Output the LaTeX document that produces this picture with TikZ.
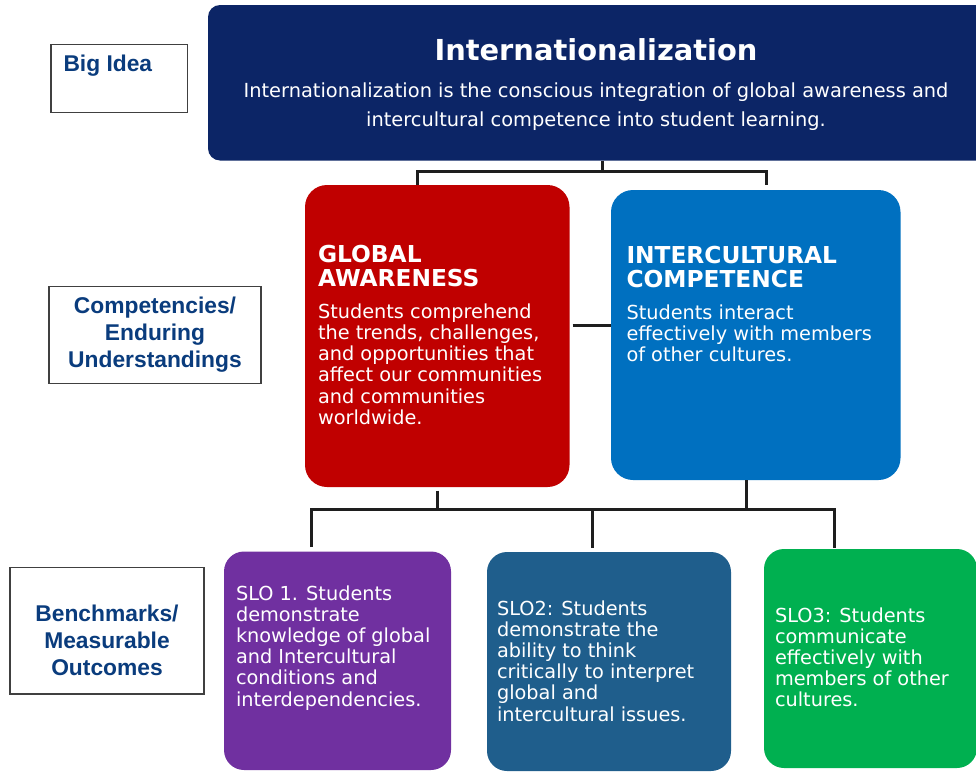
\documentclass[tikz,border=0pt]{standalone}
\usepackage{fontspec}
\newfontfamily\verd{DejaVu Sans}
\newfontfamily\arialf{Liberation Sans}
\definecolor{navybox}{RGB}{12,37,102}
\definecolor{redbox}{RGB}{192,0,0}
\definecolor{bluebox}{RGB}{0,112,192}
\definecolor{purplebox}{RGB}{112,48,160}
\definecolor{tealbox}{RGB}{31,94,140}
\definecolor{greenbox}{RGB}{0,176,80}
\definecolor{labeltext}{RGB}{10,60,125}
\definecolor{labelborder}{RGB}{64,64,64}
\definecolor{conn}{RGB}{30,30,30}
\begin{document}
\begin{tikzpicture}[x=1pt,y=-1pt,
  box/.style={inner sep=0pt, outer sep=0pt, anchor=north west, draw=none},
  labelbox/.style={inner sep=0pt, outer sep=0pt, anchor=north west, draw=labelborder, line width=1.5pt, fill=white},
  labeltxt/.style={inner sep=0pt, outer sep=0pt, text=labeltext, align=center,
    font={\arialf\bfseries\fontsize{22.8}{27}\selectfont}},
  headtxt/.style={inner sep=0pt, outer sep=0pt, anchor=north west, align=left, text=white,
    font={\verd\bfseries\fontsize{23.3}{24}\selectfont}},
  bodytxt/.style={inner sep=0pt, outer sep=0pt, anchor=north west, align=left, text=white,
    font={\verd\fontsize{19.3}{21.2}\selectfont}},
  connector/.style={draw=conn, line width=3pt, line cap=butt, line join=miter}
]
\useasboundingbox (0,0) rectangle (976,771);
\clip (0,0) rectangle (976,771);

% ---------- label boxes ----------
\node[labelbox, minimum width=136.3pt, minimum height=68pt] (lbig) at (51,44.3) {};
\node[labeltxt, anchor=north west, align=left] (lbigt) at (63.5,48.9) {\rule{0pt}{1em}Big Idea};

\node[labelbox, minimum width=212pt, minimum height=96.6pt] (lcomp) at (49,286.7) {};
\node[labeltxt, anchor=north] (lcompt) at (155,290.5) {\rule{0pt}{1em}Competencies/\\Enduring\\Understandings};

\node[labelbox, minimum width=194pt, minimum height=126.3pt] (lbench) at (10,567.7) {};
\node[labeltxt, anchor=north, font={\arialf\bfseries\fontsize{22.8}{26.7}\selectfont}] (lbencht) at (107,598.9) {\rule{0pt}{1em}Benchmarks/\\Measurable\\Outcomes};

% ---------- top box ----------
\node[box, fill=navybox, rounded corners=12pt, minimum width=782pt, minimum height=155.5pt] (top) at (208,5) {};
\node[inner sep=0pt, anchor=base, text=white, font={\verd\bfseries\fontsize{28.9}{30}\selectfont}] (title) at (596,60.7) {Internationalization};
\node[inner sep=0pt, anchor=north, align=center, text=white, font={\verd\fontsize{19.4}{28.8}\selectfont}] (subtitle) at (596,77.9)
  {\rule{0pt}{1em}Internationalization is the conscious integration of global awareness and\\intercultural competence into student learning.};

% ---------- competency boxes ----------
\node[box, fill=redbox, rounded corners=22pt, minimum width=264.5pt, minimum height=302pt] (red) at (305,185) {};
\node[headtxt] (redh) at (318,239) {\rule{0pt}{1em}GLOBAL\\AWARENESS};
\node[bodytxt] (redb) at (318,299) {\rule{0pt}{1em}Students comprehend\\the trends, challenges,\\and opportunities that\\affect our communities\\and communities\\worldwide.};

\node[box, fill=bluebox, rounded corners=22pt, minimum width=289.5pt, minimum height=290pt] (blue) at (611,190) {};
\node[headtxt] (blueh) at (626.5,240) {\rule{0pt}{1em}INTERCULTURAL\\COMPETENCE};
\node[bodytxt] (blueb) at (626.5,300) {\rule{0pt}{1em}Students interact\\effectively with members\\of other cultures.};

% ---------- outcome boxes ----------
\node[box, fill=purplebox, rounded corners=20pt, minimum width=227pt, minimum height=218.5pt] (slo1) at (224,551.5) {};
\node[bodytxt] (slo1t) at (236,580.7) {\rule{0pt}{1em}SLO 1. Students\\demonstrate\\knowledge of global\\and Intercultural\\conditions and\\interdependencies.};

\node[box, fill=tealbox, rounded corners=20pt, minimum width=244pt, minimum height=219pt] (slo2) at (487,552) {};
\node[bodytxt] (slo2t) at (497,595.7) {\rule{0pt}{1em}SLO2: Students\\demonstrate the\\ability to think\\critically to interpret\\global and\\intercultural issues.};

\node[box, fill=greenbox, rounded corners=20pt, minimum width=213pt, minimum height=219pt] (slo3) at (764,549) {};
\node[bodytxt] (slo3t) at (775,602.7) {\rule{0pt}{1em}SLO3: Students\\communicate\\effectively with\\members of other\\cultures.};

% ---------- connectors ----------
\coordinate (jtop) at (602,171);
\coordinate (jl) at (417,171);
\coordinate (jr) at (766,171);
\coordinate (jrend) at (766,185);
\draw[connector] (jtop |- top.south) -- (jtop);
\draw[connector] (jl |- red.north) -- (jl) -- (jr) -- (jrend);

\coordinate (mid) at (0,325.5);
\draw[connector] ([xshift=3pt]red.east |- mid) -- (blue.west |- mid);

\coordinate (redstart) at (437,490.7);
\coordinate (bl) at (311,509.5);
\coordinate (bm) at (592,509.5);
\coordinate (br) at (834.5,509.5);
\coordinate (bredj) at (437,509.5);
\coordinate (bbluej) at (746.5,509.5);
\draw[connector] (redstart) -- (bredj);
\draw[connector] (bbluej |- blue.south) -- (bbluej);
\draw[connector] (bl |- 0,547) -- (bl) -- (br) -- (br |- 0,548);
\draw[connector] (bm) -- (bm |- 0,548);
\end{tikzpicture}
\end{document}
